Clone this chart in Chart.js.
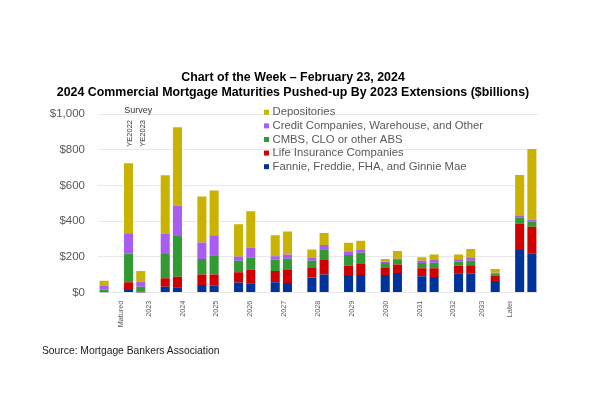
<!DOCTYPE html>
<html>
<head>
<meta charset="utf-8">
<script src="https://cdn.jsdelivr.net/npm/chart.js@4.4.1/dist/chart.umd.min.js"></script>
<style>
  body { margin: 0; background: #fff; }
  #wrap { position: relative; width: 600px; height: 399px; }
  #source { position: absolute; left: 42px; top: 345px; font: 10.3px "Liberation Sans", Arial, sans-serif; color: #1a1a1a; }
</style>
</head>
<body>
<div id="wrap">
  <canvas id="mychart" width="600" height="399"></canvas>
  <div id="source">Source: Mortgage Bankers Association</div>
</div>
<script>
// categories on the x axis, each one has a bar per survey (null = no bar)
const categories = ["Matured", "2023", "2024", "2025", "2026", "2027", "2028", "2029", "2030", "2031", "2032", "2033", "Later"];
const surveys = ["YE2022", "YE2023"];

// $billions, YE2022 survey
const fannie22 = [null, 15, 33, 43, 57, 58, 84, 99, 99, 91, 108, null, 239];
const life22   = [null, 43, 47, 58, 57, 63, 54, 52, 39, 45, 43, null, 149];
const cmbs22   = [null, 161, 136, 88, 65, 64, 41, 60, 28, 30, 24, null, 34];
const credit22 = [null, 114, 116, 92, 24, 19, 15, 17, 7, 13, 12, null, 11];
const dep22    = [null, 393, 326, 258, 180, 117, 48, 52, 15, 19, 27, null, 226];

// $billions, YE2023 survey
const fannie23 = [2, 1, 30, 39, 53, 54, 102, 99, 110, 88, 106, 65, 220];
const life23   = [0, 4, 59, 63, 77, 73, 81, 61, 47, 48, 47, 30, 149];
const cmbs23   = [16, 28, 232, 107, 66, 63, 60, 64, 26, 32, 26, 11, 29];
const credit23 = [19, 28, 168, 112, 56, 24, 24, 15, 7, 15, 15, 6, 11];
const dep23    = [30, 60, 438, 251, 204, 129, 67, 52, 43, 31, 50, 20, 396];

const seriesNames = [
  "Fannie, Freddie, FHA, and Ginnie Mae",
  "Life Insurance Companies",
  "CMBS, CLO or other ABS",
  "Credit Companies, Warehouse, and Other",
  "Depositories"
];
const seriesColors = ["#003399", "#d00000", "#339933", "#a95cf2", "#c9b200"];

const yTicks = [0, 200, 400, 600, 800, 1000];

const bySurvey = [
  [fannie22, life22, cmbs22, credit22, dep22],
  [fannie23, life23, cmbs23, credit23, dep23]
];

// one slot per bar, with an empty slot between categories
let slots = [];
let tickSpots = [];
categories.forEach((cat, i) => {
  if (i > 0) slots.push(null);
  let first = slots.length;
  surveys.forEach((s, k) => {
    if (bySurvey[k][0][i] !== null) slots.push({ i: i, s: k });
  });
  tickSpots.push((first + slots.length - 1) / 2);
});

const datasets = seriesNames.map((name, k) => ({
  label: name,
  data: slots.map(sl => sl ? bySurvey[sl.s][k][sl.i] : null),
  backgroundColor: seriesColors[k],
  barPercentage: 0.74,
  categoryPercentage: 1
}));

// legend drawn inside the plot, top entry = top of stack
const legendBox = {
  id: "legendBox",
  afterDraw(chart) {
    const c = chart.ctx;
    const area = chart.chartArea;
    const sets = chart.data.datasets;
    c.save();
    c.font = '11.3px "Liberation Sans", Arial, sans-serif';
    c.textBaseline = "middle";
    c.textAlign = "left";
    for (let k = sets.length - 1; k >= 0; k--) {
      let row = sets.length - 1 - k;
      let y = area.top - 2 + row * 13.6;
      c.fillStyle = sets[k].backgroundColor;
      c.fillRect(area.left + 166, y - 2.5, 5, 5);
      c.fillStyle = "#595959";
      c.fillText(sets[k].label, area.left + 174.5, y);
    }
    c.restore();
  }
};

// "Survey" note over the 2023 pair
const surveyNote = {
  id: "surveyNote",
  afterDraw(chart) {
    const c = chart.ctx;
    const xs = chart.scales.x;
    const idx = [];
    slots.forEach((sl, j) => { if (sl && sl.i === 1) idx.push(j); });
    if (idx.length < 2) return;
    const xa = xs.getPixelForValue(idx[0]);
    const xb = xs.getPixelForValue(idx[1]);
    c.save();
    c.fillStyle = "#333";
    c.font = '9px "Liberation Sans", Arial, sans-serif';
    c.textAlign = "center";
    c.textBaseline = "middle";
    c.fillText("Survey", (xa + xb) / 2 + 3.5, 111);
    c.font = '7.5px "Liberation Sans", Arial, sans-serif';
    c.textAlign = "right";
    [xa, xb].forEach((px, k) => {
      c.save();
      c.translate(px + 1.7, 120);
      c.rotate(-Math.PI / 2);
      c.fillText(surveys[k], 0, 0);
      c.restore();
    });
    c.restore();
  }
};

Chart.defaults.font.family = '"Liberation Sans", Arial, sans-serif';

const ctx = document.getElementById("mychart").getContext("2d");
const mychart = new Chart(ctx, {
  type: "bar",
  data: {
    labels: slots.map(sl => sl ? categories[sl.i] + " " + surveys[sl.s] : ""),
    datasets: datasets
  },
  options: {
    responsive: false,
    animation: false,
    layout: { padding: { left: 48, right: 62, top: 0, bottom: 66.4 } },
    plugins: {
      legend: { display: false },
      tooltip: { enabled: false },
      title: {
        display: true,
        text: ["Chart of the Week \u2013 February 23, 2024", "2024 Commercial Mortgage Maturities Pushed-up By 2023 Extensions ($billions)"],
        color: "#000",
        font: { size: 12.4, weight: "bold" },
        lineHeight: 1.2,
        padding: { top: 70.5, bottom: 14 }
      }
    },
    scales: {
      x: { stacked: true, display: false },
      xl: {
        type: "linear",
        position: "bottom",
        min: -0.5,
        max: slots.length - 0.5,
        grid: { display: false },
        border: { display: false },
        afterBuildTicks: scale => { scale.ticks = tickSpots.map(v => ({ value: v })); },
        afterFit: scale => { scale.height = 40; },
        ticks: {
          autoSkip: false,
          minRotation: 90,
          maxRotation: 90,
          padding: 0,
          color: "#595959",
          font: { size: 7.3 },
          callback: (v, idx) => categories[idx]
        }
      },
      y: {
        stacked: true,
        min: 0,
        max: 1000,
        afterFit: scale => { scale.width = 50; },
        afterBuildTicks: scale => { scale.ticks = yTicks.map(v => ({ value: v })); },
        grid: { color: "#e8e8e8", drawTicks: false },
        border: { display: false },
        ticks: {
          padding: 13,
          color: "#595959",
          font: { size: 11.5 },
          callback: v => "$" + v.toLocaleString("en-US")
        }
      }
    }
  },
  plugins: [legendBox, surveyNote]
});
</script>
</body>
</html>
